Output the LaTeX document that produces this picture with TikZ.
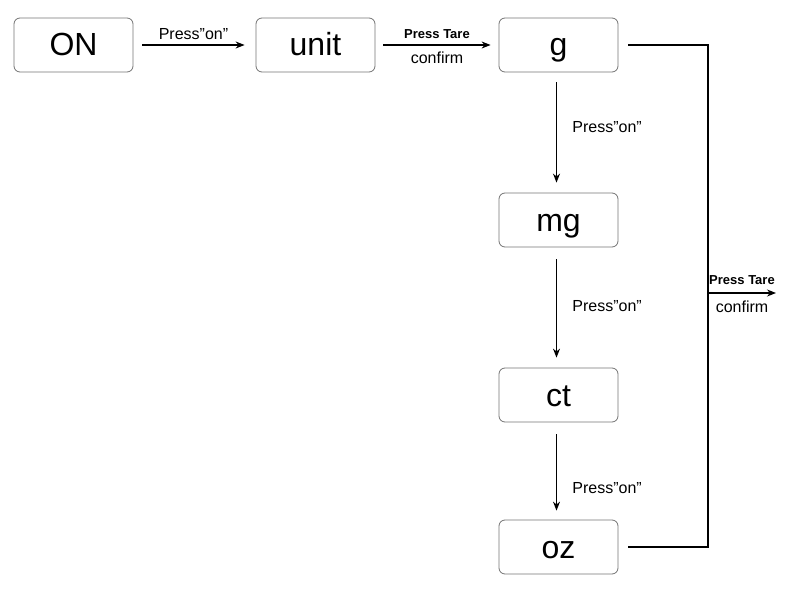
\documentclass[tikz,border=0pt]{standalone}
\usepackage{fontspec}
\setmainfont{Liberation Sans}
\usetikzlibrary{arrows.meta}
\begin{document}
\begin{tikzpicture}[x=1pt,y=-1pt,
  box/.style={draw=black!55,line width=0.8pt,rounded corners=6pt,minimum width=119pt,minimum height=54pt,font=\fontsize{32}{33}\selectfont,inner sep=0pt,text height=22pt,text depth=0pt},
  arr/.style={-{Stealth[length=9pt,width=7pt]},line width=1.2pt},
  lbl/.style={font=\fontsize{16}{18}\selectfont},
  blbl/.style={font=\fontsize{13}{15}\selectfont\bfseries}]
\useasboundingbox (0,0) rectangle (796,589);
\node[box] (on) at (73.5,45) {ON};
\node[box] (unit) at (315.5,45) {unit};
\node[box] (g) at (558.5,45) {g};
\node[box] (mg) at (558.5,220) {mg};
\node[box] (ct) at (558.5,395) {ct};
\node[box] (oz) at (558.5,547) {oz};
\draw[arr] ([xshift=9pt]on.east) -- node[lbl,above=1pt] {Press”on”} ([xshift=-11pt]unit.west);
\draw[arr] ([xshift=8pt]unit.east) -- node[blbl,above=2pt] {Press Tare} node[lbl,below=3pt] {confirm} ([xshift=-8pt]g.west);
\draw[arr] ([xshift=-2pt,yshift=-10pt]g.south) -- node[lbl,right=12pt,pos=0.45] {Press”on”} ([xshift=-2pt,yshift=10pt]mg.north);
\draw[arr] ([xshift=-2pt,yshift=-12pt]mg.south) -- node[lbl,right=12pt,pos=0.48] {Press”on”} ([xshift=-2pt,yshift=10pt]ct.north);
\draw[arr] ([xshift=-2pt,yshift=-12pt]ct.south) -- node[lbl,right=12pt,pos=0.7] {Press”on”} ([xshift=-2pt,yshift=9pt]oz.north);
\coordinate (j) at (708,293);
\coordinate (e) at (776,293);
\draw[line width=1.2pt] ([xshift=10pt]g.east) -| (j) |- ([xshift=10pt]oz.east);
\draw[arr] (j) -- node[blbl,above=4pt] {Press Tare} node[lbl,below=4pt] {confirm} (e);
\end{tikzpicture}
\end{document}
